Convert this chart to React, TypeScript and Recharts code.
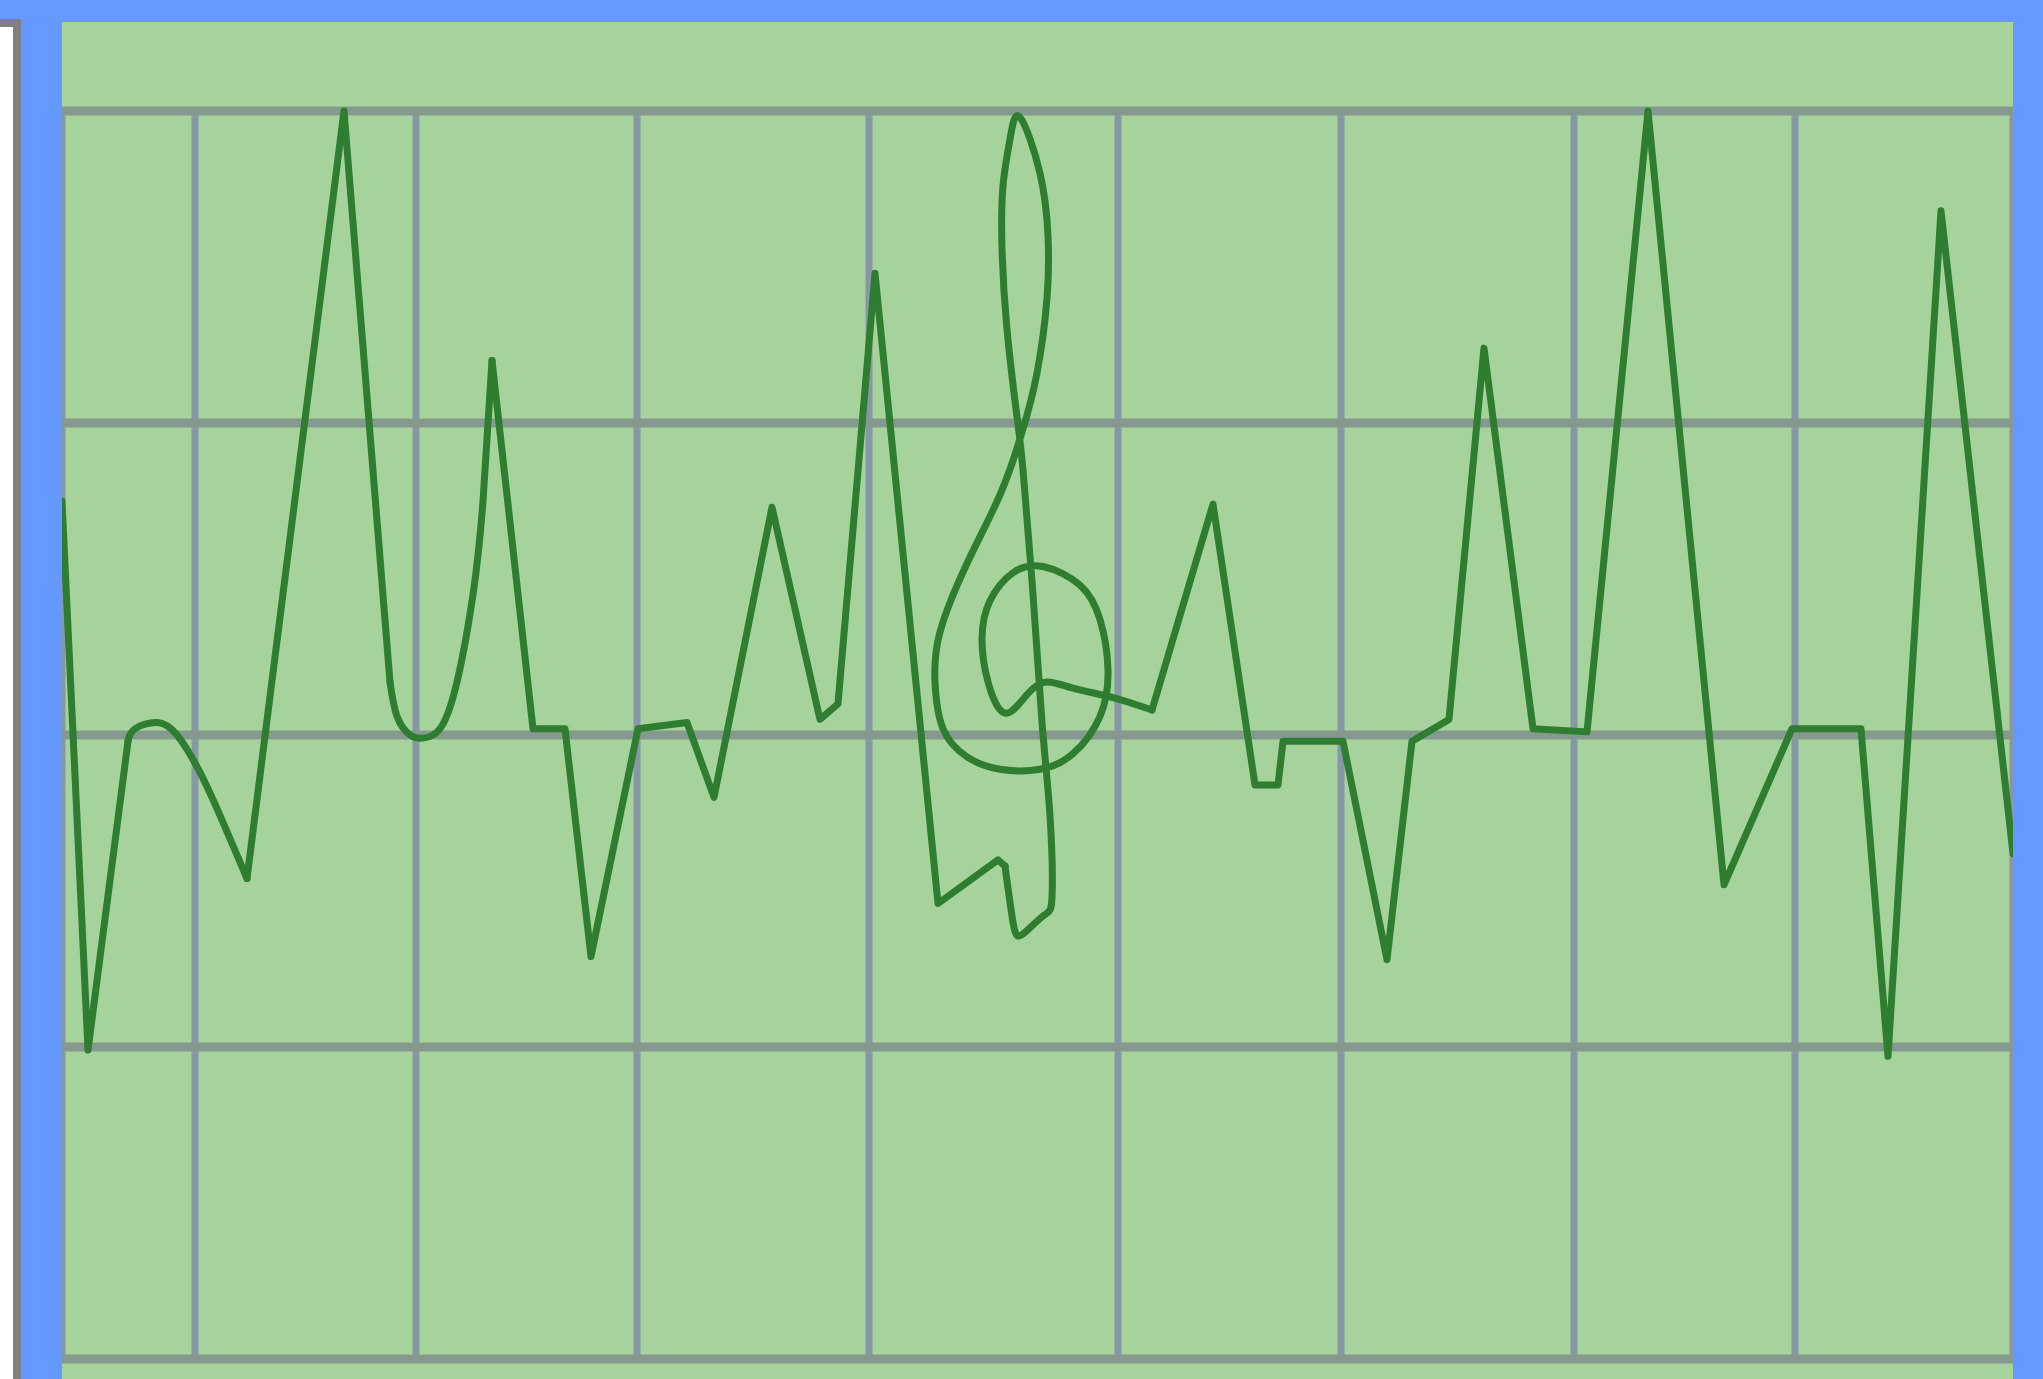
import { LineChart, Line, XAxis, YAxis, CartesianGrid } from "recharts"

// x: distance from the left edge of the plot, v: level on the staff (grid rows 0..4)
const openingZigzag: [number, number][] = [[0, 2.75], [26, 0.99], [66, 1.98]]

const shoulderCurve: [number, number][] = [
    [66, 1.98], [73, 2.02], [95, 2.04], [115, 2.0], [138, 1.88], [161, 1.72], [185, 1.54],
]

const tallSpike: [number, number][] = [[185, 1.54], [282, 4.0], [328, 2.17]]

const valleyCurve: [number, number][] = [
    [328, 2.17], [335, 2.06], [348, 2.0], [361, 1.99], [378, 2.02], [395, 2.17], [411, 2.45],
    [421, 2.75], [430, 3.2],
]

const middleZigzag: [number, number][] = [
    [430, 3.2], [471, 2.02], [503, 2.02], [529, 1.29], [576, 2.02], [625, 2.04], [652, 1.8],
    [710, 2.73], [758, 2.05], [776, 2.1], [813, 3.48], [876, 1.46], [936, 1.6], [943, 1.58],
]

// treble clef drawn by the same trace
const clefCurve: [number, number][] = [
    [943, 1.58], [951, 1.4], [960, 1.36], [981, 1.42], [990, 1.48],
    [988, 1.74], [980, 2.04], [971, 2.45], [961, 2.85], [955, 3.02], [945, 3.3], [940, 3.56],
    [941, 3.76], [948, 3.91], [958, 3.98], [978, 3.8], [986, 3.6], [985, 3.4], [975, 3.16],
    [960, 2.97], [938, 2.77], [905, 2.55], [878, 2.33], [873, 2.17], [881, 2.02], [905, 1.93],
    [938, 1.89], [978, 1.89], [1011, 1.94], [1038, 2.06], [1046, 2.21], [1038, 2.37],
    [1018, 2.48], [981, 2.54], [951, 2.52], [928, 2.43], [920, 2.31], [926, 2.17], [943, 2.07],
    [965, 2.13], [985, 2.17], [1011, 2.15], [1051, 2.12], [1090, 2.08],
]

const closingZigzag: [number, number][] = [
    [1090, 2.08], [1151, 2.74], [1193, 1.84], [1216, 1.84], [1221, 1.98], [1281, 1.98],
    [1325, 1.28], [1350, 1.98], [1387, 2.05], [1422, 3.24], [1471, 2.02], [1525, 2.01],
    [1586, 4.0], [1662, 1.52], [1730, 2.02], [1799, 2.02], [1826, 0.97], [1879, 3.68],
    [1951, 1.62],
]

const xGridTicks = [133, 354, 575, 807, 1056, 1279, 1512, 1733]
const yGridTicks = [0, 1, 2, 3, 4]

const segments: { name: string; curve: "linear" | "natural"; points: [number, number][] }[] = [
    { name: "opening", curve: "linear", points: openingZigzag },
    { name: "shoulder", curve: "natural", points: shoulderCurve },
    { name: "spike", curve: "linear", points: tallSpike },
    { name: "valley", curve: "natural", points: valleyCurve },
    { name: "middle", curve: "linear", points: middleZigzag },
    { name: "clef", curve: "natural", points: clefCurve },
    { name: "closing", curve: "linear", points: closingZigzag },
]

const LINE_COLOR = "#2f7d30"

export default function App() {
    return (
        <div
            style={{
                position: "absolute",
                top: 0,
                left: 0,
                width: 2043,
                height: 1379,
                overflow: "hidden",
                background: "#6699ff",
            }}
        >
            {/* white panel peeking in on the left */}
            <div
                style={{
                    position: "absolute",
                    left: -8,
                    top: 19,
                    width: 13,
                    height: 1400,
                    background: "#ffffff",
                    border: "8px solid #808080",
                }}
            />
            <div
                style={{
                    position: "absolute",
                    left: 62,
                    top: 22,
                    width: 1951,
                    height: 1357,
                    background: "#a6d39c",
                }}
            >
                <LineChart width={1951} height={1357} margin={{ top: 89, right: 0, bottom: 20, left: 0 }}>
                    <XAxis type="number" dataKey="x" domain={[0, 1951]} ticks={xGridTicks} hide />
                    <YAxis type="number" domain={[0, 4]} ticks={yGridTicks} hide />
                    <CartesianGrid horizontal={false} stroke="#8797a6" strokeWidth={7} />
                    <CartesianGrid vertical={false} stroke="#86998f" strokeWidth={9} />
                    {segments.map((seg) => (
                        <Line
                            key={seg.name}
                            data={seg.points.map(([x, v]) => ({ x, v }))}
                            type={seg.curve}
                            dataKey="v"
                            stroke={LINE_COLOR}
                            strokeWidth={7}
                            strokeLinejoin="round"
                            strokeLinecap="round"
                            dot={false}
                            activeDot={false}
                            isAnimationActive={false}
                        />
                    ))}
                </LineChart>
            </div>
        </div>
    )
}
